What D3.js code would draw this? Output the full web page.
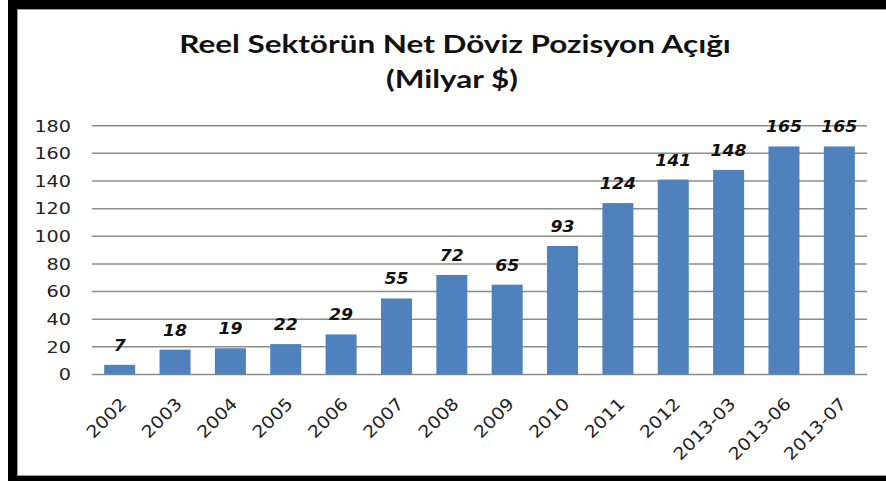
<!DOCTYPE html>
<html><head><meta charset="utf-8">
<script src="https://cdn.jsdelivr.net/npm/d3@7"></script>
<style>html,body{margin:0;padding:0;background:#fff;}svg{display:block;}</style>
</head><body>
<svg id="c" width="886" height="481"></svg>
<script>
const categories = ["2002","2003","2004","2005","2006","2007","2008","2009","2010","2011","2012","2013-03","2013-06","2013-07"];
const values = [7,18,19,22,29,55,72,65,93,124,141,148,165,165];
const yTicks = [0,20,40,60,80,100,120,140,160,180];
const titleLines = ["Reel Sektörün Net Döviz Pozisyon Açığı","(Milyar $)"];

const svg = d3.select("#c");
// frame
svg.append("rect").attr("x",8).attr("y",0).attr("width",900).attr("height",481).attr("fill","#000");
svg.append("rect").attr("x",17.5).attr("y",9.5).attr("width",1000).attr("height",466)
  .attr("fill","#fff").attr("stroke","#9a9a9a").attr("stroke-width",1);

const x = d3.scaleBand().domain(categories).range([92,867]).paddingInner(0.44).paddingOuter(0.22);
const y = d3.scaleLinear().domain([0,180]).range([374.5,125.7]);

// gridlines
svg.append("g").selectAll("line").data(yTicks).join("line")
  .attr("x1",92).attr("x2",867).attr("y1",d=>y(d)).attr("y2",d=>y(d))
  .attr("stroke","#8c8c8c").attr("stroke-width",1.5);

// y tick labels
svg.append("g").selectAll("text").data(yTicks).join("text")
  .attr("transform",d=>`translate(71,${y(d)+5.8}) scale(1.2,1)`)
  .attr("text-anchor","end")
  .attr("font-family","DejaVu Sans").attr("font-size",16).attr("fill","#222")
  .text(d=>d);

// bars
svg.append("g").selectAll("rect").data(values).join("rect")
  .attr("x",(d,i)=>x(categories[i])).attr("width",x.bandwidth())
  .attr("y",d=>y(d)).attr("height",d=>y(0)-y(d))
  .attr("fill","#4F81BD");

// value labels
svg.append("g").selectAll("text").data(values).join("text")
  .attr("transform",(d,i)=>`translate(${x(categories[i])+x.bandwidth()/2},${y(d)-14}) scale(1.08,1)`)
  .attr("text-anchor","middle")
  .attr("font-family","DejaVu Sans").attr("font-weight","bold").attr("font-style","italic")
  .attr("font-size",16).attr("fill","#111")
  .text(d=>d);

// x labels
svg.append("g").selectAll("text").data(categories).join("text")
  .attr("transform",d=>`translate(${x(d)+x.bandwidth()/2+8},405) rotate(-45) scale(1.12,1)`)
  .attr("text-anchor","end")
  .attr("font-family","DejaVu Sans").attr("font-size",17).attr("fill","#222")
  .text(d=>d);

// title
const tg = svg.append("g");
const t1 = tg.append("text").attr("font-family","Lato").attr("font-weight","bold").attr("font-size",25)
  .attr("fill","#111").attr("text-anchor","middle").text(titleLines[0]);
const w1 = t1.node().getComputedTextLength();
t1.attr("transform",`translate(455,53) scale(${552/w1},1)`);
const t2 = tg.append("text").attr("font-family","Lato").attr("font-weight","bold").attr("font-size",25)
  .attr("fill","#111").attr("text-anchor","middle").text(titleLines[1]);
t2.attr("transform",`translate(452,88) scale(${552/w1},1)`);
</script>
</body></html>
